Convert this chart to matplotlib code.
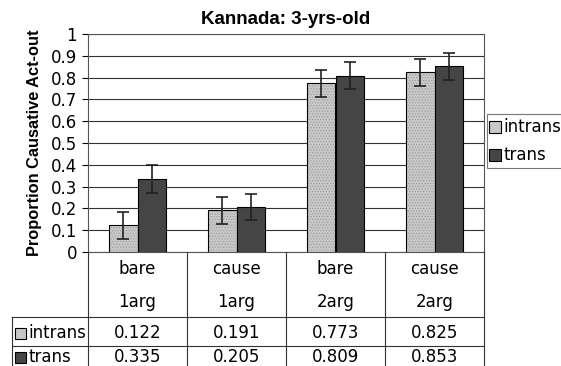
import numpy as np
import matplotlib.pyplot as plt
from matplotlib.patches import Rectangle

# Data
cat_top = ['bare', 'cause', 'bare', 'cause']
cat_bottom = ['1arg', '1arg', '2arg', '2arg']
series = ['intrans', 'trans']
intrans = [0.122, 0.191, 0.773, 0.825]
trans = [0.335, 0.205, 0.809, 0.853]
intrans_err = [0.061, 0.062, 0.062, 0.062]
trans_err = [0.063, 0.060, 0.061, 0.062]
yticks = [0, 0.1, 0.2, 0.3, 0.4, 0.5, 0.6, 0.7, 0.8, 0.9, 1]

c_light = '#c8c8c8'
c_dark = '#454545'
c_dots = '#9c9c9c'
fs = 12

plt.rcParams['font.family'] = 'DejaVu Sans'
plt.rcParams['hatch.linewidth'] = 0.5

W, H = 561, 366
fig = plt.figure(figsize=(W / 100, H / 100), dpi=100)

# Bar axes (pixel layout)
L, R, T, B = 88, 484, 34, 252
ax = fig.add_axes([L / W, 1 - B / H, (R - L) / W, (B - T) / H])
x = np.arange(len(intrans))
bw = 0.29
ax.bar(x - bw / 2, intrans, bw, color=c_light, edgecolor=c_dots, lw=0,
       hatch='......', zorder=3)
ax.bar(x - bw / 2, intrans, bw, fill=False, edgecolor='black', lw=0.8, zorder=3)
ax.bar(x + bw / 2, trans, bw, color=c_dark, edgecolor='black', lw=0.8, zorder=3)
ax.errorbar(x - bw / 2, intrans, yerr=intrans_err, fmt='none', ecolor='#222222',
            elinewidth=1.2, capsize=4, capthick=1.2, zorder=4)
ax.errorbar(x + bw / 2, trans, yerr=trans_err, fmt='none', ecolor='#222222',
            elinewidth=1.2, capsize=4, capthick=1.2, zorder=4)
ax.set_xlim(-0.5, 3.5)
ax.set_ylim(0, 1)
ax.set_yticks(yticks)
ax.set_yticklabels([f'{v:g}' for v in yticks], fontsize=fs)
ax.set_xticks([])
ax.yaxis.grid(True, color='#333333', lw=0.8)
ax.set_axisbelow(True)
ax.tick_params(axis='y', length=4, width=0.8, pad=4)
for s in ax.spines.values():
    s.set_color('#555555')
    s.set_linewidth(0.8)
ax.set_title('Kannada: 3-yrs-old', pad=7, family='Liberation Sans',
             fontweight='bold', fontsize=13.5)
ax.set_ylabel('Proportion Causative Act-out', labelpad=6, family='Liberation Sans',
              fontweight='bold', fontsize=11.8)

# Legend box
lg = fig.add_axes([486 / W, 1 - 168 / H, (W - 486) / W, 55 / H])
lg.set_xlim(0, W - 486)
lg.set_ylim(55, 0)
lg.axis('off')
lg.add_patch(Rectangle((0.5, 0.5), W - 486, 54, fill=False, ec='#777777', lw=0.8,
                       clip_on=False))
for i, (name, col) in enumerate(zip(series, [c_light, c_dark])):
    yc = 14 + i * 28
    lg.add_patch(Rectangle((3, yc - 6), 12, 12, fc=col, ec='black', lw=0.8))
    lg.text(17, yc, name, fontsize=fs, va='center', ha='left')

# Data table under the bars
ta = fig.add_axes([L / W, 0, (R - L) / W, (H - B) / H])
ta.set_xlim(-0.5, 3.5)
ta.set_ylim(H - B, 0)
ta.axis('off')
lab_w = (L - 12) / ((R - L) / 4)
hdr, rh = 65, 29
kw = dict(color='#333333', lw=0.8, clip_on=False)
for xv in np.arange(-0.5, 4.0, 1.0):
    ta.plot([xv, xv], [0, H - B + 10], **kw)
ta.plot([-0.5 - lab_w, -0.5 - lab_w], [hdr, H - B + 10], **kw)
for yv in [hdr, hdr + rh]:
    ta.plot([-0.5 - lab_w, 3.5], [yv, yv], **kw)
for i in range(len(cat_top)):
    ta.text(i, 17, cat_top[i], ha='center', va='center', fontsize=fs)
    ta.text(i, 50, cat_bottom[i], ha='center', va='center', fontsize=fs)
    ta.text(i, hdr + 16, f'{intrans[i]:.3f}', ha='center', va='center',
            fontsize=fs)
    ta.text(i, hdr + rh + 11, f'{trans[i]:.3f}', ha='center', va='center',
            fontsize=fs)
for j, (name, col) in enumerate(zip(series, [c_light, c_dark])):
    yc = hdr + (16 if j == 0 else rh + 11)
    x0 = -0.5 - lab_w + 0.03
    ta.add_patch(Rectangle((x0, yc - 5.5), 0.11, 11, fc=col, ec='black', lw=0.8,
                           clip_on=False))
    ta.text(x0 + 0.14, yc, name, ha='left', va='center', fontsize=fs,
            clip_on=False)

plt.savefig('out.png', dpi=100)
